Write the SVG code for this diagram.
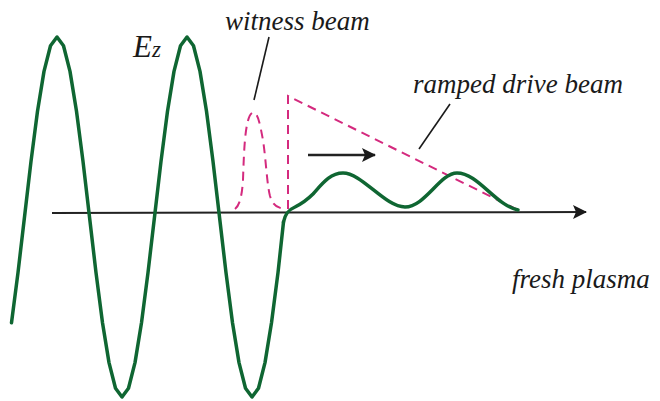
<svg xmlns="http://www.w3.org/2000/svg" width="660" height="401" viewBox="0 0 660 401">
<style>
.lbl{fill:#1a1a1a;}
.wave{fill:none;stroke:#0f6632;stroke-width:3.5;stroke-linejoin:round;stroke-linecap:round;}
.beam{fill:none;stroke:#d42a7e;stroke-width:2;stroke-dasharray:9 6;}
.lead{fill:none;stroke:#1a1a1a;stroke-width:1.6;}
.axis{fill:none;stroke:#222;stroke-width:2;}
</style>
<defs>
<marker id="ah" viewBox="0 0 14 14" refX="13" refY="7" markerWidth="14" markerHeight="14" markerUnits="userSpaceOnUse" orient="auto">
<path d="M0,0 L14,7 L0,14 L3,7 Z" fill="#1a1a1a"/>
</marker>
</defs>
<rect width="660" height="401" fill="#fff"/>
<g id="connectors">
<line id="axis" class="axis" x1="52" y1="213" x2="586" y2="212" marker-end="url(#ah)"/>
<line id="motion-arrow" class="axis" style="stroke-width:2.5" x1="308" y1="155" x2="375" y2="155" marker-end="url(#ah)"/>
<line id="witness-leader" class="lead" x1="269" y1="37" x2="254" y2="100"/>
<line id="drive-leader" class="lead" x1="450" y1="104" x2="419" y2="149"/>
</g>
<g id="witness-beam">
<path class="beam" d="M235,209 C240,205 242,195 243,180 C244,150 245,118 252,113 C258,110 260,125 263,140 C266,160 267,185 270,196 C273,206 278,208 285,209"/>
</g>
<g id="drive-beam">
<path class="beam" d="M288,209 L288,96 L518,210"/>
</g>
<g id="ez-wave">
<polyline class="wave" points="11.5,322.8 18,272.6 24.5,217 31,161.4 37.5,111.2 44,71.4 50.5,45.8 57,37 63.5,45.8 70,71.4 76.5,111.2 83,161.4 89.5,217 96,272.6 102.5,322.8 109,362.6 115.5,388.2 122,397 128.5,388.2 135,362.6 141.5,322.8 148,272.6 154.5,217 161,161.4 167.5,111.2 174,71.4 180.5,45.8 187,37 193.5,45.8 200,71.4 206.5,111.2 213,161.4 219.5,217 226,272.6 232.5,322.8 239,362.6 245.5,388.2 252,397 258.5,388.2 265,362.6 271.5,322.8 278,272.6 283.5,222"/>
<path class="wave" d="M283.5,222 C285,214 288,210 295,207 C303,203 308,199 313,194 C322,184 330,173 343,173 C362,173 385,207 405,207 C425,207 440,173 457,173 C478,173 495,205 518,210"/>
</g>
<g id="labels" font-family="Liberation Serif, Times New Roman, serif" font-style="italic">
<text class="lbl" x="133" y="57" font-size="31">E</text>
<text class="lbl" x="152" y="57" font-size="23">z</text>
<text class="lbl" x="225" y="30" font-size="27">witness beam</text>
<text class="lbl" x="413" y="93" font-size="27">ramped drive beam</text>
<text class="lbl" x="512" y="288" font-size="27">fresh plasma</text>
</g>
</svg>
